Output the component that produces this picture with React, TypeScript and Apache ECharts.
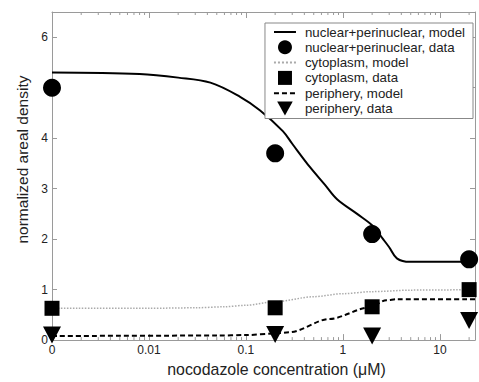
import React, { useEffect, useRef } from 'react';
import * as echarts from 'echarts';

// x positions of the data (the "0" concentration is drawn at 0.001 on the log axis)
const xTickLabels = ['0', '0.01', '0.1', '1', '10'];
const yTickLabels = ['0', '1', '2', '3', '4', '', '6']; // "5" is hidden behind a marker
const decadeStarts = [0.001, 0.01, 0.1, 1, 10];
const minorMultipliers = [2, 3, 4, 5, 6, 7, 8, 9];

const dataX = [0.001, 0.2, 2, 20];
const nuclearData = [5.0, 3.7, 2.1, 1.6];
const cytoplasmData = [0.63, 0.64, 0.66, 1.0];
const peripheryData = [0.1, 0.11, 0.08, 0.39];

const nuclearModelX = [0.001, 0.008, 0.02, 0.043, 0.087, 0.14, 0.24, 0.3, 0.46, 0.65, 0.87, 1.4, 2.04, 2.57, 3.0, 3.6, 4.9, 23];
const nuclearModelY = [5.3, 5.27, 5.2, 5.1, 4.82, 4.55, 4.14, 3.89, 3.42, 3.08, 2.79, 2.5, 2.26, 2.01, 1.84, 1.62, 1.55, 1.55];

const cytoModelX = [0.001, 0.01, 0.03, 0.06, 0.1, 0.2, 0.5, 1, 2, 5, 23];
const cytoModelY = [0.63, 0.63, 0.64, 0.66, 0.69, 0.76, 0.86, 0.92, 0.96, 0.99, 1.0];

const periModelX = [0.001, 0.05, 0.1, 0.2, 0.28, 0.73, 1.9, 2.8, 3.6, 23];
const periModelY = [0.08, 0.09, 0.1, 0.13, 0.155, 0.42, 0.65, 0.79, 0.81, 0.81];

const X_MIN = 0.001;
const X_MAX = 23;
const Y_MIN = 0;
const Y_MAX = 6.5;

const FONT = '"Liberation Sans", Arial, sans-serif';
const AXIS_GRAY = '#9a9a9a';
const TEXT = '#222';
const DOWN_TRI = 'path://M0,0L20,0L10,18Z';
const SQUARE = 'path://M0,0L10,0L10,10L0,10Z';

const pairs = (xs: number[], ys: number[]) => xs.map((x, i) => [x, ys[i]]);

export default function App() {
  const ref = useRef<HTMLDivElement>(null);
  useEffect(() => {
    if (!ref.current) return;
    const chart = echarts.init(ref.current, null, { renderer: 'svg' });
    const minorTicks: number[] = [];
    decadeStarts.forEach((d) => minorMultipliers.forEach((m) => {
      const v = d * m;
      if (v <= X_MAX) minorTicks.push(v);
    }));
    const xLabel = (v: number) => {
      const e = Math.log10(v);
      const r = Math.round(e);
      if (Math.abs(e - r) > 1e-6) return '';
      return xTickLabels[r + 3] ?? '';
    };
    const yLabel = (v: number) => {
      const i = Math.round(v);
      if (Math.abs(v - i) > 1e-6) return '';
      return yTickLabels[i] ?? '';
    };
    const lineItem = (name: string) => ({ name, itemStyle: { opacity: 0 } });
    chart.setOption({
      animation: false,
      textStyle: { fontFamily: FONT },
      grid: { left: 52, right: 4, top: 12, bottom: 35 },
      legend: {
        right: 6,
        top: 23,
        orient: 'vertical',
        backgroundColor: '#fff',
        borderColor: '#888',
        borderWidth: 1,
        padding: [2, 8, 3, 8],
        itemWidth: 22,
        itemHeight: 14,
        itemGap: 1.3,
        textStyle: { fontFamily: FONT, fontSize: 13.3, lineHeight: 14, color: TEXT, padding: [0, 0, 0, 4] },
        data: [
          lineItem('nuclear+perinuclear, model'),
          { name: 'nuclear+perinuclear, data', icon: 'circle' },
          lineItem('cytoplasm, model'),
          { name: 'cytoplasm, data', icon: SQUARE },
          lineItem('periphery, model'),
          { name: 'periphery, data', icon: DOWN_TRI },
        ],
      },
      xAxis: [
        {
          type: 'log', logBase: 10, min: X_MIN, max: X_MAX, position: 'bottom',
          name: 'nocodazole concentration (\u03bcM)', nameLocation: 'middle', nameGap: 17,
          nameTextStyle: { fontFamily: FONT, fontSize: 15.9, color: TEXT, padding: [0, 0, 0, 26] },
          axisLine: { show: true, onZero: false, lineStyle: { color: AXIS_GRAY, width: 1 } },
          axisTick: { show: true, inside: true, length: 6, lineStyle: { color: AXIS_GRAY } },
          axisLabel: { formatter: xLabel, fontSize: 12, color: TEXT, margin: 4, showMaxLabel: false },
          splitLine: { show: false },
        },
        {
          type: 'log', logBase: 10, min: X_MIN, max: X_MAX, position: 'top',
          axisLine: { show: true, onZero: false, lineStyle: { color: AXIS_GRAY, width: 1 } },
          axisTick: { show: true, inside: true, length: 6, lineStyle: { color: AXIS_GRAY } },
          axisLabel: { show: false },
          splitLine: { show: false },
        },
      ],
      yAxis: [
        {
          type: 'value', min: Y_MIN, max: Y_MAX, interval: 1, position: 'left',
          name: 'normalized areal density', nameLocation: 'middle', nameGap: 19,
          nameTextStyle: { fontFamily: FONT, fontSize: 15.5, color: TEXT, padding: [0, 0, 0, 33] },
          axisLine: { show: true, onZero: false, lineStyle: { color: AXIS_GRAY, width: 1 } },
          axisTick: { show: true, inside: true, length: 5, lineStyle: { color: AXIS_GRAY } },
          axisLabel: { formatter: yLabel, fontSize: 12, color: TEXT, margin: 4, showMaxLabel: false },
          splitLine: { show: false },
        },
        {
          type: 'value', min: Y_MIN, max: Y_MAX, interval: 1, position: 'right',
          axisLine: { show: true, onZero: false, lineStyle: { color: AXIS_GRAY, width: 1 } },
          axisTick: { show: true, inside: true, length: 5, lineStyle: { color: AXIS_GRAY } },
          axisLabel: { show: false },
          splitLine: { show: false },
        },
      ],
      series: [
        {
          type: 'custom', name: 'minorTicks', xAxisIndex: 0, yAxisIndex: 0, silent: true, z: 1,
          data: minorTicks.map((v) => [v, Y_MIN]),
          renderItem: (params: any, api: any) => {
            const v = api.value(0);
            const b = api.coord([v, Y_MIN]);
            const t = api.coord([v, Y_MAX]);
            const st = { stroke: AXIS_GRAY, lineWidth: 1 };
            return {
              type: 'group',
              children: [
                { type: 'line', shape: { x1: b[0], y1: b[1], x2: b[0], y2: b[1] - 3 }, style: st },
                { type: 'line', shape: { x1: t[0], y1: t[1], x2: t[0], y2: t[1] + 3 }, style: st },
              ],
            };
          },
        },
        {
          name: 'nuclear+perinuclear, model', type: 'line', data: pairs(nuclearModelX, nuclearModelY),
          symbol: 'none', smooth: 0.35,
          lineStyle: { color: '#000', width: 2 }, itemStyle: { color: '#000' },
        },
        {
          name: 'nuclear+perinuclear, data', type: 'scatter', data: pairs(dataX, nuclearData),
          symbol: 'circle', symbolSize: 18, clip: false, itemStyle: { color: '#000', opacity: 1 }, z: 3,
        },
        {
          name: 'cytoplasm, model', type: 'line', data: pairs(cytoModelX, cytoModelY),
          symbol: 'none', smooth: 0.3, smoothMonotone: 'x',
          lineStyle: { color: '#aaa', width: 1.5, type: 'dotted' }, itemStyle: { color: '#aaa' },
        },
        {
          name: 'cytoplasm, data', type: 'scatter', data: pairs(dataX, cytoplasmData),
          symbol: 'rect', symbolSize: 15, clip: false, itemStyle: { color: '#000', opacity: 1 }, z: 3,
        },
        {
          name: 'periphery, model', type: 'line', data: pairs(periModelX, periModelY),
          symbol: 'none', smooth: 0.3, smoothMonotone: 'x',
          lineStyle: { color: '#000', width: 2, type: [5, 3] }, itemStyle: { color: '#000' },
        },
        {
          name: 'periphery, data', type: 'scatter', data: pairs(dataX, peripheryData),
          symbol: DOWN_TRI, symbolSize: [18, 17], symbolKeepAspect: false, clip: false,
          itemStyle: { color: '#000', opacity: 1 }, z: 3,
        },
      ],
    });
    return () => chart.dispose();
  }, []);
  return <div ref={ref} style={{ width: 479, height: 382, position: 'absolute', left: 0, top: 0 }} />;
}
